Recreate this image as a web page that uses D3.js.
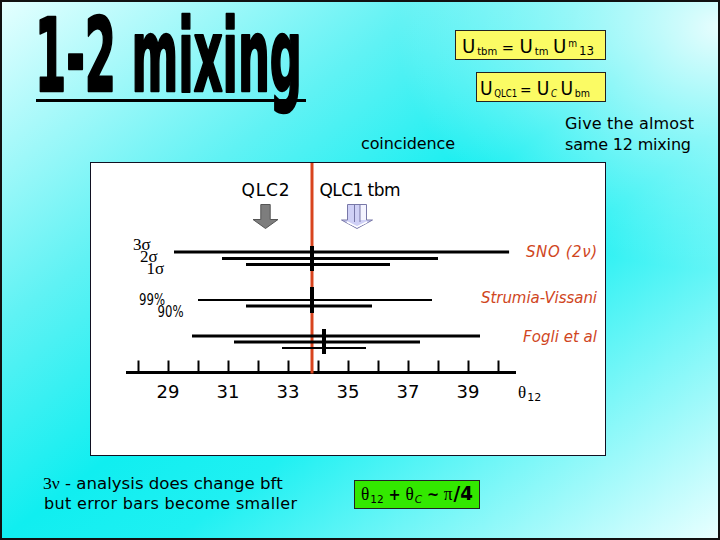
<!DOCTYPE html>
<html><head><meta charset="utf-8">
<script src="https://cdn.jsdelivr.net/npm/d3@7"></script>
<style>html,body{margin:0;padding:0;overflow:hidden;background:#fff}</style>
</head><body>
<script>
// ---------- data ----------
const tickValues = [28,29,30,31,32,33,34,35,36,37,38,39,40];
const tickLabels = [29,31,33,35,37,39];
const coincidence = 33.8;
const sigmaLabels = ["3σ","2σ","1σ"];
const clLabels = ["99%","90%"];
const experiments = ["SNO (2ν)","Strumia-Vissani","Fogli et al"];
const snoLow  = [29.2, 30.8, 31.6];
const snoHigh = [40.37, 38.0, 36.4];
const snoBest = 33.8;
const svLow   = [30.0, 31.6];
const svHigh  = [37.8, 35.8];
const svBest  = 33.8;
const fogliLow  = [29.8, 31.2, 32.8];
const fogliHigh = [39.4, 37.4, 35.6];
const fogliBest = 34.2;
const arrowNames = ["QLC2","QLC1 tbm"];
const arrowValues = [32.25, 35.3];

const W = 720, H = 540;
const sans = "'DejaVu Sans', 'Noto Sans', sans-serif";
const serif = "'Liberation Serif', 'DejaVu Serif', serif";
const svg = d3.select("body").append("svg").attr("width", W).attr("height", H);
const defs = svg.append("defs");

// background
const lg = defs.append("linearGradient").attr("id","bg").attr("x1",0).attr("y1",0).attr("x2",1).attr("y2",1);
[[0,"#e6ffff"],[0.3,"#60f2f4"],[0.5,"#10eef0"],[0.62,"#20f0f2"],[1,"#eaffff"]].forEach(s=>lg.append("stop").attr("offset",s[0]).attr("stop-color",s[1]));
const rg = defs.append("radialGradient").attr("id","glow").attr("cx",1).attr("cy",0.05).attr("r",0.45);
rg.append("stop").attr("offset",0).attr("stop-color","#ffffff").attr("stop-opacity",0.9);
rg.append("stop").attr("offset",1).attr("stop-color","#ffffff").attr("stop-opacity",0);
svg.append("rect").attr("width",W).attr("height",H).attr("fill","url(#bg)");
svg.append("rect").attr("width",W).attr("height",H).attr("fill","url(#glow)");
svg.append("rect").attr("x",1).attr("y",1).attr("width",W-2).attr("height",H-2).attr("fill","none").attr("stroke","#111").attr("stroke-width",2);

// title (natural width measured, then scaled to fit)
const title = svg.append("text").attr("x",0).attr("y",0)
  .style("font-family","'Liberation Sans Narrow','DejaVu Sans Condensed','Liberation Sans',sans-serif")
  .style("font-weight","bold").style("font-size","96px").attr("fill","#000")
  .attr("stroke","#000").attr("stroke-width",2.5).attr("stroke-linejoin","round").text("1-2 mixing");
const tw = title.node().getComputedTextLength();
title.attr("transform",`translate(35,90.5) scale(${267/tw},1.06)`);
svg.append("line").attr("x1",36).attr("x2",306).attr("y1",100.5).attr("y2",100.5).attr("stroke","#000").attr("stroke-width",3);

function box(x,y,w,h,fill){ svg.append("rect").attr("x",x).attr("y",y).attr("width",w).attr("height",h).attr("fill",fill).attr("stroke","#222").attr("stroke-width",1); }

// formula made of separate text pieces, fitted to a target width
function formula(x0,y,len,parts){
  const g = svg.append("g");
  let cx = x0;
  parts.forEach(p=>{
    const t = g.append("text").attr("x",cx).attr("y",y+(p.dy||0)).text(p.t)
      .style("font-family",p.f||sans).style("font-size",(p.s||18)+"px").attr("fill","#000");
    if(p.i) t.style("font-style","italic");
    if(p.b) t.style("font-weight","bold");
    cx += t.node().getComputedTextLength() + (p.gap==null?2:p.gap);
  });
  if(len){ const k = len/(cx-x0); g.attr("transform",`translate(${x0},0) scale(${k},1) translate(${-x0},0)`); }
  return g;
}

// formula boxes
box(455.5,30.5,150,29,"#fbfb64");
box(476.5,72.5,129,29,"#fbfb64");
formula(462,53,132,[{t:"U",s:20},{t:"tbm",s:11,dy:2,gap:5},{t:"=",s:16,gap:6},{t:"U",s:20},{t:"tm",s:11,dy:2,gap:5},{t:"U",s:20},{t:"m",s:10,dy:-6},{t:"13",s:13,dy:2,gap:0}]);
formula(480,95,110,[{t:"U",s:20},{t:"QLC1",s:10,dy:2,gap:3},{t:"=",s:16,gap:6},{t:"U",s:20},{t:"C",s:10,dy:2,i:true,gap:4},{t:"U",s:20},{t:"bm",s:11,dy:2,gap:0}]);

// notes
svg.append("text").attr("x",361).attr("y",149).attr("textLength",94).style("font-family",sans).style("font-size","16px").text("coincidence");
svg.append("text").attr("x",565).attr("y",129).attr("textLength",129).style("font-family",sans).style("font-size","16px").text("Give the almost");
svg.append("text").attr("x",565).attr("y",150).attr("textLength",126).style("font-family",sans).style("font-size","16px").text("same 12 mixing");

// chart box
svg.append("rect").attr("x",90.5).attr("y",162.5).attr("width",515).attr("height",293).attr("fill","#fff").attr("stroke","#112").attr("stroke-width",1);

const x = d3.scaleLinear().domain([28,40]).range([138,498]);
const axisY = 372.5;

// axis
const ax = svg.append("g").attr("transform",`translate(0,${axisY})`)
  .call(d3.axisTop(x).tickValues(tickValues).tickSize(12).tickFormat(""));
ax.select(".domain").remove();
ax.selectAll(".tick line").attr("stroke","#000").attr("stroke-width",2);
svg.append("line").attr("x1",x(27.6)).attr("x2",x(40.6)).attr("y1",axisY).attr("y2",axisY).attr("stroke","#000").attr("stroke-width",3);
svg.append("g").selectAll("text").data(tickLabels).join("text")
  .attr("x",d=>x(d)).attr("y",398).attr("text-anchor","middle")
  .style("font-family",sans).style("font-size","18px").attr("fill","#000").text(d=>d);
formula(518,398,null,[{t:"θ",s:17,f:serif,gap:1},{t:"12",s:11,dy:3}]);

// coincidence red line
svg.append("line").attr("x1",x(coincidence)).attr("x2",x(coincidence)).attr("y1",163).attr("y2",axisY+1)
  .attr("stroke","#d8441e").attr("stroke-width",3);

// interval bars
function bars(low,high,ys,widths){
  svg.append("g").selectAll("line").data(low).join("line")
    .attr("x1",(d)=>x(d)).attr("x2",(d,i)=>x(high[i]))
    .attr("y1",(d,i)=>ys[i]).attr("y2",(d,i)=>ys[i])
    .attr("stroke","#000").attr("stroke-width",(d,i)=>widths[i]);
}
function best(v,y1,y2){
  svg.append("line").attr("x1",x(v)).attr("x2",x(v)).attr("y1",y1).attr("y2",y2).attr("stroke","#000").attr("stroke-width",4);
}
bars(snoLow,snoHigh,[252,258.5,264.5],[3,3,3]);
best(snoBest,246,271);
bars(svLow,svHigh,[300,306],[2,3]);
best(svBest,287,313);
bars(fogliLow,fogliHigh,[336,342,348],[3,3,2]);
best(fogliBest,329,354);

// row labels
const sigPos = [[133,250],[140,262],[146.5,273.5]];
svg.append("g").selectAll("text").data(sigmaLabels).join("text")
  .attr("x",(d,i)=>sigPos[i][0]).attr("y",(d,i)=>sigPos[i][1])
  .style("font-family",serif).style("font-size","17px").attr("fill","#000").text(d=>d);
const clPos = [[139,305],[157.5,316.5]];
svg.append("g").selectAll("text").data(clLabels).join("text")
  .attr("x",(d,i)=>clPos[i][0]).attr("y",(d,i)=>clPos[i][1]).attr("textLength",26).attr("lengthAdjust","spacingAndGlyphs")
  .style("font-family",sans).style("font-size","15px").attr("fill","#000").text(d=>d);
const expY = [257,303,342], expW = [71,116,74];
svg.append("g").selectAll("text").data(experiments).join("text")
  .attr("x",(d,i)=>597-expW[i]).attr("y",(d,i)=>expY[i]).attr("textLength",(d,i)=>expW[i])
  .style("font-family",sans).style("font-style","italic").style("font-size","15px").attr("fill","#d0461e").text(d=>d);

// arrows + labels
const nameX = [[241.5,48],[319.5,81]];
svg.append("g").selectAll("text").data(arrowNames).join("text")
  .attr("x",(d,i)=>nameX[i][0]).attr("y",196).attr("textLength",(d,i)=>nameX[i][1])
  .style("font-family",sans).style("font-size","17px").attr("fill","#000").text(d=>d);
function arrowPath(cx,bw,hw,top,hy,tip){
  return `M${cx-bw},${top} L${cx+bw},${top} L${cx+bw},${hy} L${cx+hw},${hy} L${cx},${tip} L${cx-hw},${hy} L${cx-bw},${hy} Z`;
}
const a1 = x(arrowValues[0]);
svg.append("path").attr("d",arrowPath(a1,4.7,12.5,204.5,219.5,228.5)).attr("fill","#7d7d7d").attr("stroke","#555").attr("stroke-width",1);
const a2 = x(arrowValues[1]);
svg.append("path").attr("d",arrowPath(a2,9.5,15.5,204.5,220,228.5)).attr("fill","#cfd0f6").attr("stroke","#7878a8").attr("stroke-width",1);
svg.append("rect").attr("x",a2+3).attr("y",205).attr("width",6).attr("height",15).attr("fill","#f4f4ff");
[a2-2.5,a2+3].forEach(lx=>svg.append("line").attr("x1",lx).attr("x2",lx).attr("y1",204.5).attr("y2",222).attr("stroke","#7878a8").attr("stroke-width",1));
svg.append("path").attr("d",`M${a2-10},${222} L${a2},${227} L${a2+10},${222}`).attr("fill","none").attr("stroke","#fff").attr("stroke-width",1.5);

// bottom text
formula(43,489,240,[{t:"3ν",s:17,f:serif,gap:5},{t:"- analysis does change bft",s:16,gap:0}]);
svg.append("text").attr("x",44).attr("y",509).attr("textLength",253).style("font-family",sans).style("font-size","16px").attr("fill","#000").text("but error bars become smaller");

// green box
box(354.5,480.5,125,28,"#33e800");
formula(361,500,112,[{t:"θ",s:18,f:serif,gap:1},{t:"12",s:11,dy:3,gap:5},{t:"+",s:15,b:true,gap:5},{t:"θ",s:18,f:serif,gap:1},{t:"C",s:11,dy:3,i:true,gap:5},{t:"~",s:15,b:true,gap:5},{t:"π",s:18,f:serif,gap:1},{t:"/4",s:19,b:true,gap:0}]);
</script>
</body></html>
